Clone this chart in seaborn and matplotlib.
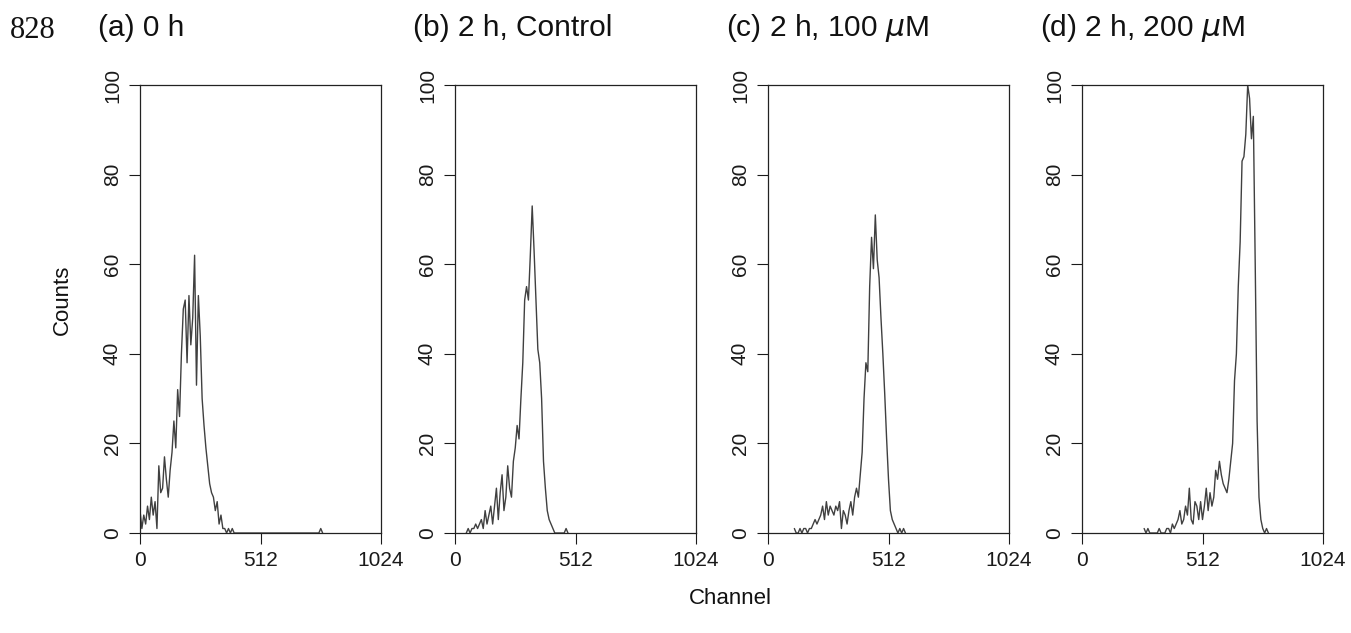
import numpy as np
import pandas as pd
import matplotlib
matplotlib.use("Agg")
import matplotlib.pyplot as plt
import seaborn as sns

sns.set_theme(style="ticks")
plt.rcParams['font.family'] = ['Liberation Sans', 'DejaVu Sans']
plt.rcParams['mathtext.fontset'] = 'dejavusans'

# histogram counts, one value every 8 channels starting at start_*
step = 8
titles = ["(a) 0 h", "(b) 2 h, Control", r"(c) 2 h, 100 $\mu$M", r"(d) 2 h, 200 $\mu$M"]

start_a = 0
counts_a = [5, 1, 4, 2, 6, 3, 8, 4, 7, 1, 15, 9, 10, 17, 12, 8, 14, 18, 25, 19,
            32, 26, 40, 50, 52, 38, 53, 42, 48, 62, 33, 53, 44, 30, 24, 19, 15, 11, 9, 8,
            5, 7, 2, 4, 1, 1, 0, 1, 0, 1, 0]
extra_ch_a = [760, 768, 776]
extra_a = [0, 1, 0]

start_b = 48
counts_b = [0, 1, 0, 1, 1, 2, 1, 2, 3, 1, 5, 2, 4, 6, 2, 6, 10, 3, 9, 13,
            5, 8, 15, 10, 8, 16, 19, 24, 21, 30, 38, 52, 55, 52, 62, 73, 63, 52, 41, 38,
            30, 16, 10, 5, 3, 2, 1, 0]
extra_ch_b = [464, 472, 480]
extra_b = [0, 1, 0]

start_c = 112
counts_c = [1, 0, 0, 1, 0, 1, 1, 0, 1, 1, 2, 3, 2, 3, 4, 6, 3, 7, 4, 6,
            5, 4, 6, 5, 7, 1, 5, 4, 2, 5, 7, 4, 8, 10, 8, 13, 18, 30, 38, 36,
            55, 66, 59, 71, 61, 57, 48, 40, 31, 21, 12, 5, 3, 2, 1, 0, 1, 0, 1, 0]
extra_ch_c = []
extra_c = []

start_d = 264
counts_d = [1, 0, 1, 0, 0, 0, 0, 0, 1, 0, 0, 0, 1, 1, 0, 2, 1, 2, 3, 5,
            2, 3, 6, 4, 10, 3, 2, 7, 6, 3, 7, 3, 6, 10, 5, 9, 6, 8, 14, 12,
            16, 13, 11, 10, 9, 12, 16, 20, 34, 40, 55, 65, 83, 84, 89, 100, 97, 88, 93, 60,
            25, 8, 3, 1, 0, 1, 0]
extra_ch_d = []
extra_d = []

panels = [(start_a, counts_a, extra_ch_a, extra_a),
          (start_b, counts_b, extra_ch_b, extra_b),
          (start_c, counts_c, extra_ch_c, extra_c),
          (start_d, counts_d, extra_ch_d, extra_d)]

W, H = 1351, 633
fig = plt.figure(figsize=(W / 100, H / 100), dpi=100)
lefts = [140, 455, 768, 1082]
line_col = "#404040"

for i, (start, counts, xch, xc) in enumerate(panels):
    ax = fig.add_axes([lefts[i] / W, (H - 533) / H, 241 / W, 448 / H])
    ch = list(start + step * np.arange(len(counts))) + list(xch)
    df = pd.DataFrame({"Channel": ch, "Counts": list(counts) + list(xc)})
    sns.lineplot(data=df, x="Channel", y="Counts", ax=ax, color=line_col,
                 linewidth=1.0, estimator=None, sort=False)
    ax.set_xlim(0, 1024)
    ax.set_ylim(0, 100)
    ax.set_xticks([0, 512, 1024])
    ax.set_yticks([0, 20, 40, 60, 80, 100])
    ax.set_xlabel("")
    ax.set_ylabel("")
    ax.tick_params(labelsize=15, length=8, width=0.8, pad=5, colors="#1a1a1a")
    for lab in ax.get_yticklabels():
        lab.set_rotation(90)
        lab.set_va("center")
    for sp in ax.spines.values():
        sp.set_visible(True)
        sp.set_linewidth(0.9)
        sp.set_color("#222222")
    ax.text(-0.174, 1.109, titles[i], transform=ax.transAxes, ha="left",
            va="baseline", fontsize=21.5, color="#111111")

fig.text(10 / W, 1 - 30 / H, "828", family="Liberation Serif", fontsize=22,
         va="center", ha="left", color="#111111")
fig.text(62 / W, 1 - 300 / H, "Counts", rotation=90, ha="center", va="center",
         fontsize=16, color="#111111")
fig.text(730 / W, 1 - 598 / H, "Channel", ha="center", va="center",
         fontsize=16, color="#111111")

fig.savefig("out.png", dpi=100)
